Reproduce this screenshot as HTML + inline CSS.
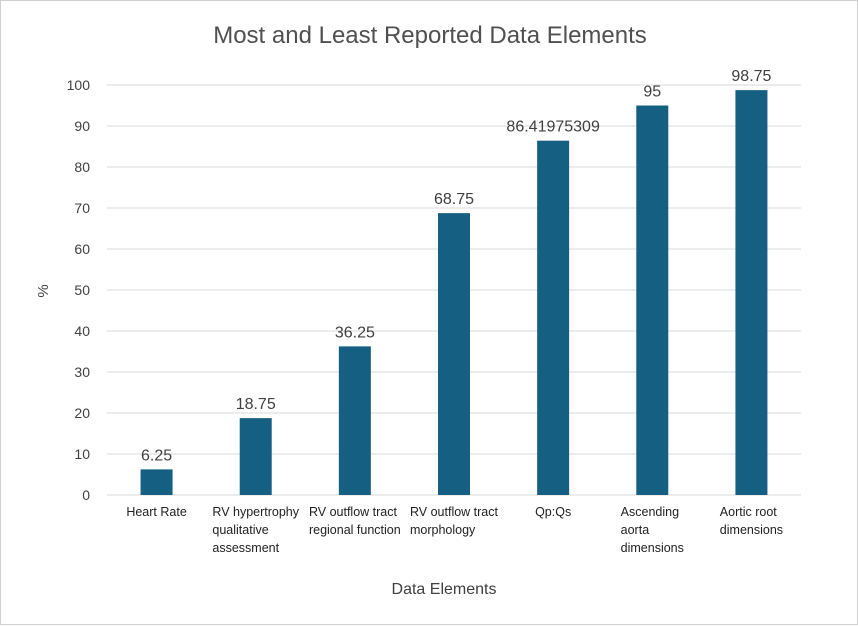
<!DOCTYPE html>
<html><head><meta charset="utf-8"><style>
body{margin:0;background:#fff;font-family:"Liberation Sans",sans-serif}
#wrap{position:relative;width:858px;height:625px;box-sizing:border-box;border:1px solid #d0d0d0;background:#fff}
.xl{position:absolute;top:502px;width:100px;text-align:center;font-size:12.5px;color:#222;line-height:18px}
.xl span{display:inline-block;text-align:left}
</style></head><body>
<div id="wrap">
<svg id="svg" width="858" height="625" style="position:absolute;left:0;top:0">
<text x="429" y="42" text-anchor="middle" font-size="24" fill="#505050">Most and Least Reported Data Elements</text>
<text x="47" y="290" text-anchor="middle" font-size="15" fill="#404040" transform="rotate(-90 47 290)">%</text>
<text x="443" y="593" text-anchor="middle" font-size="16" fill="#404040">Data Elements</text>
<g id="grid"></g><g id="bars"></g>
</svg>
<div id="labels"></div>
</div>
<script>
const categories=["Heart Rate","RV hypertrophy qualitative assessment","RV outflow tract regional function","RV outflow tract morphology","Qp:Qs","Ascending aorta dimensions","Aortic root dimensions"];
const labelLines=[["Heart Rate"],["RV hypertrophy","qualitative","assessment"],["RV outflow tract","regional function"],["RV outflow tract","morphology"],["Qp:Qs"],["Ascending","aorta","dimensions"],["Aortic root","dimensions"]];
const values=[6.25,18.75,36.25,68.75,86.41975309,95,98.75];
const valueLabels=["6.25","18.75","36.25","68.75","86.41975309","95","98.75"];
const yTicks=[0,10,20,30,40,50,60,70,80,90,100];
const NS="http://www.w3.org/2000/svg";
const x0=106,x1=800,yb=494,yt=84;
const y=v=>yb-(v/100)*(yb-yt);
const band=(x1-x0)/categories.length;
const xc=i=>x0+band*(i+0.5);
const grid=document.getElementById('grid');
yTicks.forEach(t=>{
 const l=document.createElementNS(NS,'line');
 l.setAttribute('x1',x0);l.setAttribute('x2',x1);l.setAttribute('y1',y(t));l.setAttribute('y2',y(t));
 l.setAttribute('stroke','#d9d9d9');l.setAttribute('stroke-width','1');
 
 
 grid.appendChild(l);
 const tx=document.createElementNS(NS,'text');
 tx.setAttribute('x',89);tx.setAttribute('y',y(t)+5);tx.setAttribute('text-anchor','end');
 tx.setAttribute('font-size','14');tx.setAttribute('fill','#404040');tx.textContent=t;
 
 
 grid.appendChild(tx);
});
const bars=document.getElementById('bars');
const bw=32;
values.forEach((v,i)=>{
 const r=document.createElementNS(NS,'rect');
 r.setAttribute('x',xc(i)-bw/2);r.setAttribute('y',y(v));r.setAttribute('width',bw);r.setAttribute('height',yb-y(v));
 r.setAttribute('fill','#156082');
 
 
 bars.appendChild(r);
 const t=document.createElementNS(NS,'text');
 t.setAttribute('x',xc(i));t.setAttribute('y',y(v)-9);t.setAttribute('text-anchor','middle');
 t.setAttribute('font-size','16');t.setAttribute('fill','#404040');t.textContent=valueLabels[i];
 
 
 bars.appendChild(t);
});
const lab=document.getElementById('labels');
labelLines.forEach((ls,i)=>{
 const d=document.createElement('div');d.className='xl';
 d.style.left=(xc(i)-50)+'px';
 
 
 const s=document.createElement('span');s.innerHTML=ls.join('<br>');
 d.appendChild(s);lab.appendChild(d);
});
</script>
</body></html>
